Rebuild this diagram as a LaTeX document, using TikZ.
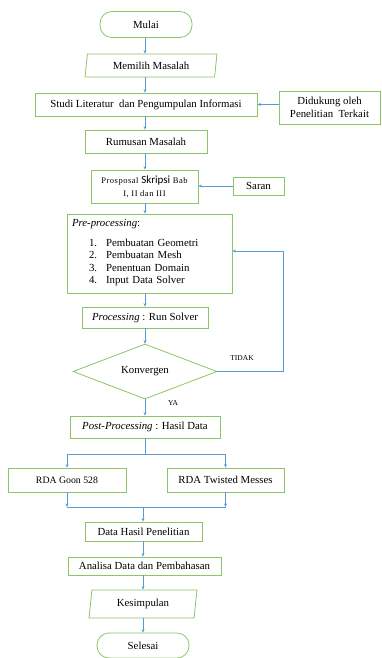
\documentclass[tikz,border=0pt]{standalone}
\usepackage{fontspec}
\setmainfont{Liberation Serif}
\newfontfamily\calibri{Carlito}
\newfontfamily\spaced[LetterSpace=6]{Liberation Serif}
\usepackage{tikz}
\usetikzlibrary{
    arrows.meta,
    calc,
    shapes.geometric
}
\definecolor{boxgreen}{RGB}{140,196,104}
\definecolor{arrowblue}{RGB}{91,155,213}

\tikzset{
    base/.style={draw=boxgreen, line width=0.8pt, inner sep=2pt, align=center,
                 font=\fontsize{10.8}{12.5}\selectfont},
    process/.style={base, rectangle, minimum width=#1, minimum height=22pt},
    terminal/.style={base, rectangle, rounded corners=12pt, minimum width=92pt, minimum height=26pt},
    inout/.style={base, trapezium, trapezium left angle=78, trapezium right angle=102,
                  trapezium stretches body, minimum width=#1},
    decision/.style={base, diamond, aspect=2.6, minimum width=144pt, minimum height=55pt, inner sep=0pt},
    arr/.style={draw=arrowblue, line width=0.6pt, -{Stealth[length=3.5pt,width=3pt]}},
    line/.style={draw=arrowblue, line width=0.6pt},
    tag/.style={font=\fontsize{7.5}{8}\selectfont}
}

\begin{document}
\begin{tikzpicture}[x=1pt, y=-1pt]
\useasboundingbox (0,0) rectangle (382,658);

\coordinate (spine) at (145,0);

\node[terminal] (mulai) at (146,24.5) {Mulai};
\node[inout=132pt, minimum height=23pt] (memilih) at (151,65.5) {Memilih Masalah};
\node[process=222pt, minimum height=23pt] (studi) at (146,104.5) {Studi Literatur\ \ dan Pengumpulan Informasi};
\node[process=101pt, minimum height=33pt, inner sep=1pt] (dukung) at (329.5,107.5) {Didukung oleh\\Penelitian\ \ Terkait};
\node[process=107pt, minimum height=33pt, font=\fontsize{11}{13}\selectfont] (proposal) at (144.5,186.5)
    {{\spaced\fontsize{8.5}{9}\selectfont Prosposal} {\calibri Skripsi}{\spaced\fontsize{8.5}{9}\selectfont\ Bab}\\{\spaced\fontsize{8.5}{9}\selectfont I, II\ dan III}};
\node[process=122pt, minimum height=23pt] (rumusan) at (146,141.5) {Rumusan Masalah};
\node[process=51pt, minimum height=18pt] (saran) at (258.5,186) {Saran};
\node[process=165pt, minimum height=79pt, text width=155pt, inner sep=5pt, align=left] (pre) at (149.5,253.5)
    {\textit{Pre-processing}:\\[7pt]
     \hspace*{17pt}\begin{tabular}[t]{@{}l@{\hspace{9pt}}l@{}}
     1. & Pembuatan Geometri\\
     2. & Pembuatan Mesh\\
     3. & Penentuan Domain\\
     4. & Input Data Solver
     \end{tabular}};
\node[process=126pt, minimum height=21pt] (proc) at (145,317.5) {\textit{Processing} : Run Solver};
\node[decision] (konv) at (145,371.5) {Konvergen};
\node[process=150pt, minimum height=22pt] (post) at (145,427) {\textit{Post-Processing} : Hasil Data};
\node[process=118pt, minimum height=24pt] (goon) at (67,480) {{\fontsize{9.8}{10}\selectfont RDA Goon 528}};
\node[process=117pt, minimum height=24pt] (twist) at (225.5,480) {RDA Twisted Messes};
\node[process=117pt, minimum height=19pt] (data) at (143.5,531.5) {Data Hasil Penelitian};
\node[process=153pt, minimum height=18pt] (analisa) at (144.5,566) {Analisa Data dan Pembahasan};
\node[inout=108pt, minimum height=28pt] (kesim) at (143,604) {Kesimpulan};
\node[terminal, minimum height=25pt] (selesai) at (143,645.5) {Selesai};

\node[tag] (tidak) at (242,358) {TIDAK};
\node[tag] (ya) at (173,403) {YA};

% main flow
\draw[arr] (mulai.south -| spine) -- (memilih.north -| spine);
\draw[arr] (memilih.south -| spine) -- (studi.north -| spine);
\draw[arr] (studi.south -| spine) -- (rumusan.north -| spine);
\draw[arr] (rumusan.south -| spine) -- (proposal.north -| spine);
\draw[arr] (proposal.south -| spine) -- (pre.north -| spine);
\draw[arr] (pre.south -| spine) -- (proc.north -| spine);
\draw[arr] (proc.south -| spine) -- (konv.north);
\draw[arr] (konv.south) -- (post.north -| spine);

% side inputs
\draw[arr] (dukung.west |- studi) -- (studi.east);
\draw[arr] (saran.west) -- (proposal.east |- saran);

% feedback loop
\coordinate (loop) at (283,251);
\draw[arr] (konv.east) -| (loop) -- (loop -| pre.east);

% split and join
\coordinate (split) at (145,454);
\draw[line] (post.south -| spine) -- (split);
\draw[line] (split -| goon) -- (split -| twist);
\draw[arr] (split -| goon) -- (goon.north);
\draw[arr] (split -| twist) -- (twist.north);

\coordinate (join) at (143,507);
\draw[arr] (goon.south) -- (join -| goon);
\draw[arr] (twist.south) -- (join -| twist);
\draw[line] (join -| goon) -- (join -| twist);
\draw[arr] (join) -- (data.north -| join);

\draw[arr] (data.south -| join) -- (analisa.north -| join);
\draw[arr] (analisa.south -| join) -- (kesim.north -| join);
\draw[arr] (kesim.south -| join) -- (selesai.north -| join);
\end{tikzpicture}
\end{document}
